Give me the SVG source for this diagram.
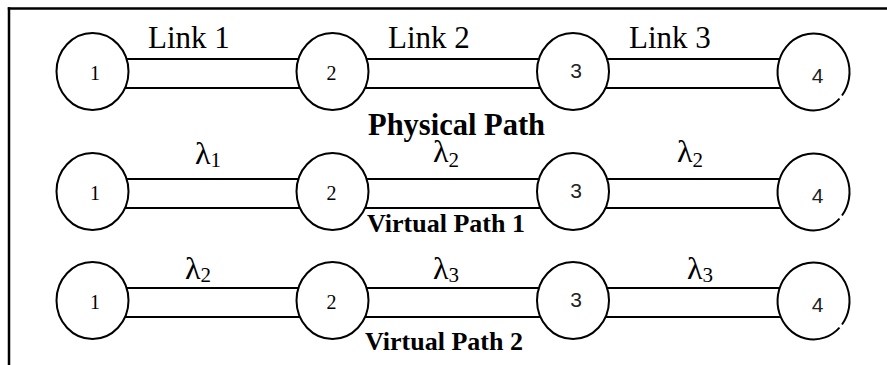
<svg xmlns="http://www.w3.org/2000/svg" width="887" height="365" viewBox="0 0 887 365">
  <style>
    .frame { stroke: #000; stroke-width: 2.5; fill: none; }
    .link { stroke: #000; stroke-width: 2; fill: none; }
    .node { stroke: #000; stroke-width: 2; fill: #fff; }
    .disc { fill: #fff; stroke: none; }
  </style>

  <!-- frame: top and left rules -->
  <g id="frame">
    <line class="frame" x1="7.8" y1="8.5" x2="887" y2="8.5"/>
    <line class="frame" x1="9" y1="7.3" x2="9" y2="365"/>
  </g>

  <!-- double-line links between neighbouring nodes -->
  <g id="connectors">
    <line class="link" x1="120" y1="59" x2="305" y2="59"/>
    <line class="link" x1="120" y1="88" x2="305" y2="88"/>
    <line class="link" x1="360" y1="59" x2="545" y2="59"/>
    <line class="link" x1="360" y1="88" x2="545" y2="88"/>
    <line class="link" x1="600" y1="59" x2="785" y2="59"/>
    <line class="link" x1="600" y1="88" x2="785" y2="88"/>

    <line class="link" x1="120" y1="179" x2="305" y2="179"/>
    <line class="link" x1="120" y1="208" x2="305" y2="208"/>
    <line class="link" x1="360" y1="179" x2="545" y2="179"/>
    <line class="link" x1="360" y1="208" x2="545" y2="208"/>
    <line class="link" x1="600" y1="179" x2="785" y2="179"/>
    <line class="link" x1="600" y1="208" x2="785" y2="208"/>

    <line class="link" x1="120" y1="288" x2="305" y2="288"/>
    <line class="link" x1="120" y1="317" x2="305" y2="317"/>
    <line class="link" x1="360" y1="288" x2="545" y2="288"/>
    <line class="link" x1="360" y1="317" x2="545" y2="317"/>
    <line class="link" x1="600" y1="288" x2="785" y2="288"/>
    <line class="link" x1="600" y1="317" x2="785" y2="317"/>
  </g>

  <!-- node numbers: 1 and 2 in a serif face, 3 and 4 in a sans face -->
  <g font-family="'Liberation Serif', 'Times New Roman', serif" fill="#000">
    <!-- physical path -->
    <g id="p-n1"><ellipse class="node" cx="92.5" cy="71.5" rx="36" ry="38.5"/><text x="95" y="80" font-size="20" text-anchor="middle">1</text></g>
    <g id="p-n2"><ellipse class="node" cx="332.5" cy="71.5" rx="36" ry="38.5"/><text x="331.5" y="80" font-size="20" text-anchor="middle">2</text></g>
    <g id="p-n3"><ellipse class="node" cx="573" cy="71.5" rx="36" ry="38.5"/><text x="576" y="78" font-size="21" text-anchor="middle" font-family="'Liberation Sans', Arial, sans-serif" fill="#222">3</text></g>
    <g id="p-n4">
      <ellipse class="disc" cx="813" cy="72.5" rx="36" ry="38.5"/>
      <path class="link" d="M 839.5 98.6 A 36 38.5 0 1 1 842 95.5"/>
      <text x="817.5" y="83" font-size="21" text-anchor="middle" font-family="'Liberation Sans', Arial, sans-serif" fill="#222">4</text>
    </g>
    <g id="p-labels" font-size="31">
      <text x="148" y="48">Link 1</text>
      <text x="388" y="48">Link 2</text>
      <text x="629" y="48">Link 3</text>
      <text x="368" y="135" font-size="30.5" font-weight="bold">Physical Path</text>
    </g>

    <!-- virtual path 1 -->
    <g id="v1-n1"><ellipse class="node" cx="92.5" cy="191.5" rx="36" ry="38.5"/><text x="95" y="200" font-size="20" text-anchor="middle">1</text></g>
    <g id="v1-n2"><ellipse class="node" cx="332.5" cy="191.5" rx="36" ry="38.5"/><text x="331.5" y="200" font-size="20" text-anchor="middle">2</text></g>
    <g id="v1-n3"><ellipse class="node" cx="573" cy="191.5" rx="36" ry="38.5"/><text x="576" y="198" font-size="21" text-anchor="middle" font-family="'Liberation Sans', Arial, sans-serif" fill="#222">3</text></g>
    <g id="v1-n4">
      <ellipse class="disc" cx="813" cy="192.5" rx="36" ry="38.5"/>
      <path class="link" d="M 839.5 218.6 A 36 38.5 0 1 1 842 215.5"/>
      <text x="817.5" y="203" font-size="21" text-anchor="middle" font-family="'Liberation Sans', Arial, sans-serif" fill="#222">4</text>
    </g>
    <g id="v1-labels" font-size="32">
      <text x="195" y="164">λ<tspan font-size="21" dy="3">1</tspan></text>
      <text x="433" y="162">λ<tspan font-size="21" dy="5">2</tspan></text>
      <text x="677" y="162">λ<tspan font-size="21" dy="5">2</tspan></text>
      <text x="367" y="232" font-size="26" font-weight="bold">Virtual Path 1</text>
    </g>

    <!-- virtual path 2 -->
    <g id="v2-n1"><ellipse class="node" cx="92.5" cy="300.5" rx="36" ry="38.5"/><text x="95" y="309" font-size="20" text-anchor="middle">1</text></g>
    <g id="v2-n2"><ellipse class="node" cx="332.5" cy="300.5" rx="36" ry="38.5"/><text x="331.5" y="309" font-size="20" text-anchor="middle">2</text></g>
    <g id="v2-n3"><ellipse class="node" cx="573" cy="300.5" rx="36" ry="38.5"/><text x="576" y="307" font-size="21" text-anchor="middle" font-family="'Liberation Sans', Arial, sans-serif" fill="#222">3</text></g>
    <g id="v2-n4">
      <ellipse class="disc" cx="813" cy="301.5" rx="36" ry="38.5"/>
      <path class="link" d="M 839.5 327.6 A 36 38.5 0 1 1 842 324.5"/>
      <text x="817.5" y="312" font-size="21" text-anchor="middle" font-family="'Liberation Sans', Arial, sans-serif" fill="#222">4</text>
    </g>
    <g id="v2-labels" font-size="32">
      <text x="185" y="279">λ<tspan font-size="21" dy="3">2</tspan></text>
      <text x="433" y="279">λ<tspan font-size="21" dy="3">3</tspan></text>
      <text x="687" y="279">λ<tspan font-size="21" dy="3">3</tspan></text>
      <text x="365" y="350" font-size="26" font-weight="bold">Virtual Path 2</text>
    </g>
  </g>
</svg>
